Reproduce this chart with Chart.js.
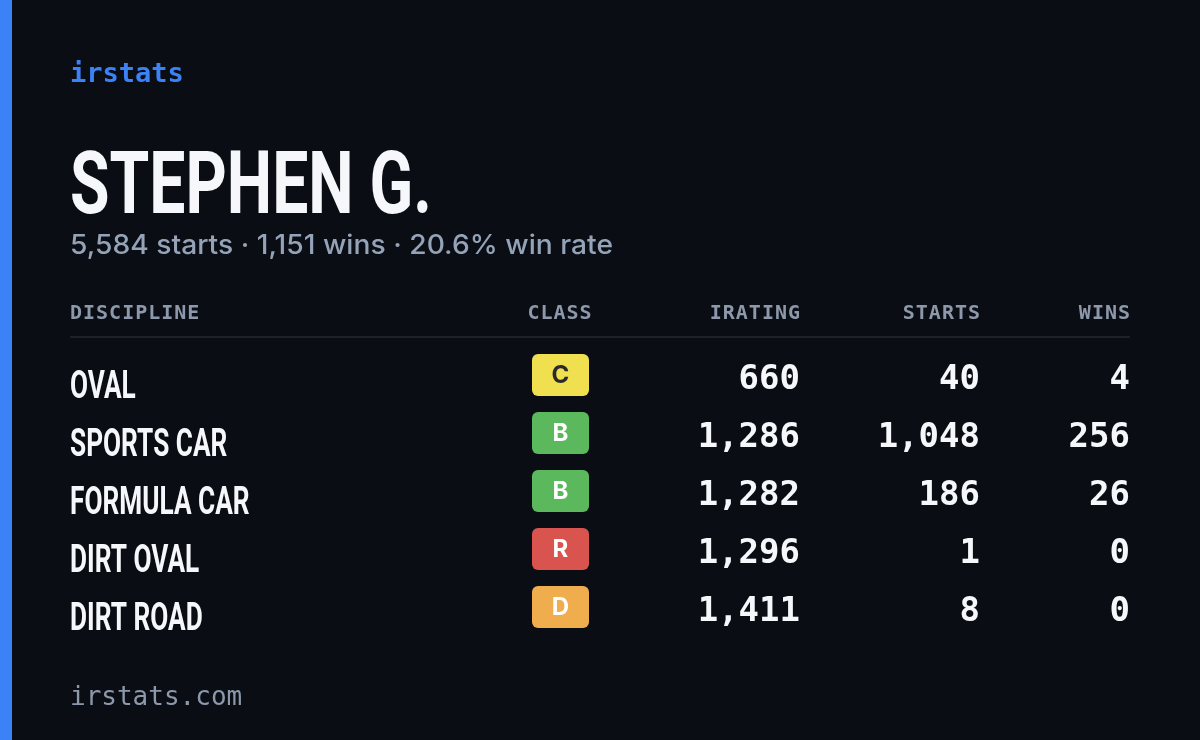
<!DOCTYPE html>
<html><head><meta charset="utf-8">
<script src="https://cdn.jsdelivr.net/npm/chart.js@4"></script>
<style>html,body{margin:0;padding:0;background:#0a0d14;}#w{width:1200px;height:740px;position:relative;}</style>
</head><body><div id="w"><canvas id="c"></canvas></div>
<script>
const disciplines = ["OVAL","SPORTS CAR","FORMULA CAR","DIRT OVAL","DIRT ROAD"];
const classes = ["C","B","B","R","D"];
const iratings = [660,1286,1282,1296,1411];
const starts = [40,1048,186,1,8];
const wins = [4,256,26,0,0];
const columns = ["DISCIPLINE","CLASS","IRATING","STARTS","WINS"];
const classColors = {C:"#f0e04f",B:"#5cb85c",R:"#d9534f",D:"#f0ad4e"};
const classText = {C:"#2a2a2a",B:"#ffffff",R:"#ffffff",D:"#ffffff"};
const fmt = v => v.toLocaleString("en-US");
const MONO = "'DejaVu Sans Mono', monospace";

const tablePlugin = {
  id:"table",
  beforeDraw(chart){
    const ctx=chart.ctx;
    ctx.save();
    ctx.fillStyle="#0a0d14";ctx.fillRect(0,0,1200,740);
    ctx.fillStyle="#3b82f6";ctx.fillRect(0,0,12,740);
    ctx.textBaseline="alphabetic";
    ctx.font="bold 27px "+MONO;ctx.fillStyle="#3b82f6";ctx.textAlign="left";
    ctx.fillText("irstats",70,82);
    ctx.font="bold 88px Roboto";
    const f=362/ctx.measureText("STEPHEN G.").width;
    ctx.save();ctx.translate(70,213);ctx.scale(f,1);ctx.fillStyle="#f5f7fa";ctx.fillText("STEPHEN G.",0,0);ctx.restore();
    ctx.font="500 27px Inter";ctx.fillStyle="#94a3b8";
    const sub="5,584 starts · 1,151 wins · 20.6% win rate";
    const sf=543/ctx.measureText(sub).width;
    ctx.save();ctx.translate(70,254);ctx.scale(sf,1);ctx.fillText(sub,0,0);ctx.restore();
    ctx.font="bold 20px "+MONO;ctx.fillStyle="#8d98ab";ctx.textBaseline="middle";
    ctx.letterSpacing="1px";
    ctx.fillText(columns[0],70,314);
    ctx.textAlign="center";ctx.fillText(columns[1],560,314);
    ctx.textAlign="right";
    ctx.fillText(columns[2],801,314);ctx.fillText(columns[3],981,314);ctx.fillText(columns[4],1131,314);
    ctx.letterSpacing="0px";
    ctx.fillStyle="#1c212c";ctx.fillRect(70,336,1060,2);
    ctx.font="500 26px "+MONO;ctx.fillStyle="#8d98ab";ctx.textAlign="left";
    ctx.fillText("irstats.com",70,698);
    const y=chart.scales.y;
    const rf=f*0.945;
    disciplines.forEach((d,i)=>{
      const cy=y.getPixelForValue(i);
      ctx.save();ctx.translate(70,cy+18);ctx.scale(rf,1);ctx.textBaseline="alphabetic";ctx.textAlign="left";
      ctx.fillStyle="#f5f7fa";ctx.font="bold 38px Roboto";ctx.fillText(d,0,0);ctx.restore();
      ctx.fillStyle=classColors[classes[i]];
      ctx.beginPath();ctx.roundRect(532,cy-26,57,42,6);ctx.fill();
      ctx.fillStyle=classText[classes[i]];ctx.font="bold 24px Inter";ctx.textAlign="center";ctx.textBaseline="middle";
      ctx.fillText(classes[i],560.5,cy-4);
      ctx.font="bold 34px "+MONO;ctx.fillStyle="#f5f7fa";ctx.textAlign="right";
      ctx.save();
      ctx.fillText(fmt(iratings[i]),800,cy);
      ctx.fillText(fmt(starts[i]),980,cy);
      ctx.fillText(fmt(wins[i]),1130,cy);
      ctx.restore();
    });
    ctx.restore();
  }
};

new Chart(document.getElementById("c"),{
  type:"bar",
  data:{labels:disciplines,datasets:[{data:wins,backgroundColor:"rgba(0,0,0,0)"}]},
  options:{indexAxis:"y",responsive:true,maintainAspectRatio:false,animation:false,
    layout:{padding:{top:351,bottom:99,left:0,right:0}},
    plugins:{legend:{display:false},tooltip:{enabled:false}},
    scales:{y:{display:false,offset:true},x:{display:false}}},
  plugins:[tablePlugin]
});
</script></body></html>
